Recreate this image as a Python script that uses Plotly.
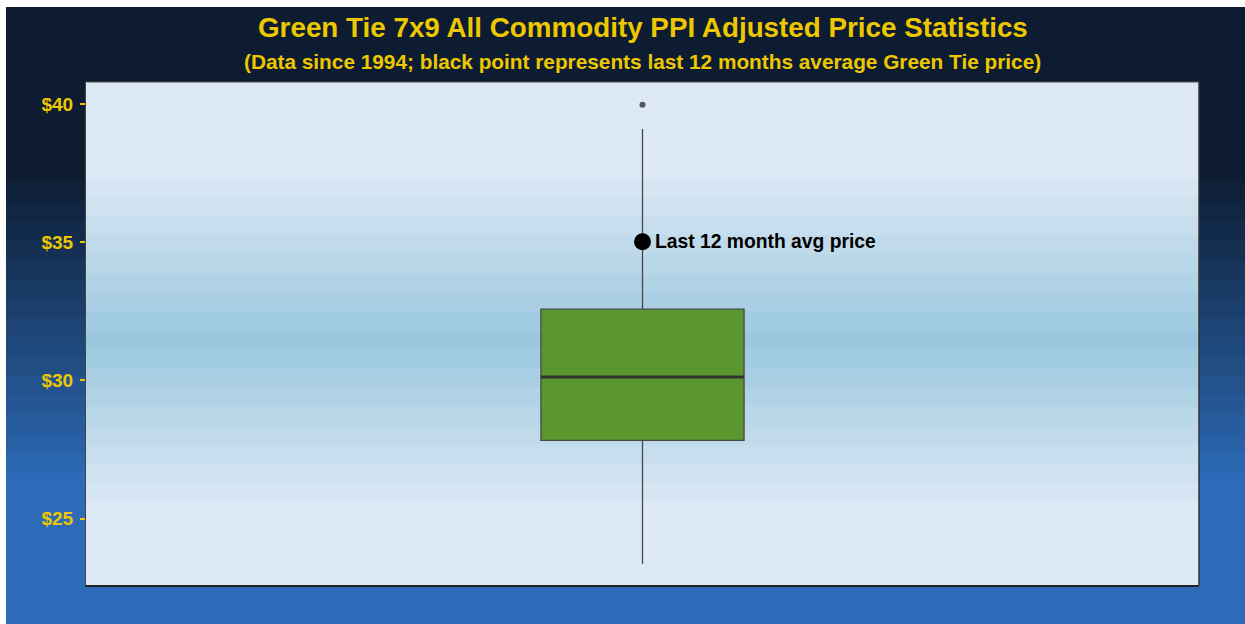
import plotly.graph_objects as go

# ---- data ----
categories = ["Green Tie 7x9"]
q1 = [27.83]
median = [30.13]
q3 = [32.58]
lower_whisker = [23.37]
upper_whisker = [39.1]
outliers = [39.98]
last12_avg = [35.02]
last12_label = "Last 12 month avg price"
y_ticks = [25, 30, 35, 40]
y_tick_labels = ["$25", "$30", "$35", "$40"]
title_text = "Green Tie 7x9 All Commodity PPI Adjusted Price Statistics"
subtitle_text = "(Data since 1994; black point represents last 12 months average Green Tie price)"

# screen offset of the figure inside the page
OX, OY = 6, 7
W, H = 1245 - OX, 624 - OY
ML, MT = 86 - OX, 82 - OY
MR = W - (1199 - OX)
MB = H - (585 - OY)
PW, PH = W - ML - MR, H - MT - MB
BOX_X = 0.0
BOX_W = 0.365
GOLD = "#EDC800"
FONT = "Liberation Sans, Arial, sans-serif"


def px_x(sx):
    return (sx - OX - ML) / PW


def px_y(sy):
    return (H - MB - (sy - OY)) / PH


def mix(c1, c2, t):
    return "rgb(%d,%d,%d)" % tuple(round(a + (b - a) * t) for a, b in zip(c1, c2))


shapes = []
XL, XR = px_x(0), px_x(1260)
# outer background: navy top, stepped gradient, blue bottom
NAVY = (13, 28, 49)
BLUE = (45, 107, 184)
shapes.append(dict(type="rect", xref="paper", yref="paper", x0=XL, x1=XR,
                   y0=px_y(640), y1=px_y(0), fillcolor=mix(NAVY, NAVY, 0), line_width=0, layer="below"))
nb = 15
top, bot = 182, 473
bh = (bot - top) / nb
for k in range(nb + 1):
    t = (k + 1) / (nb + 1)
    shapes.append(dict(type="rect", xref="paper", yref="paper", x0=XL, x1=XR,
                       y0=px_y(640), y1=px_y(top + k * bh),
                       fillcolor=mix(NAVY, BLUE, t), line_width=0, layer="below"))
# panel background: light edges, darker stepped band in the middle
LIGHT = (221, 233, 245)
DARK = (155, 200, 223)
shapes.append(dict(type="rect", xref="paper", yref="paper", x0=0, x1=1, y0=0, y1=1,
                   fillcolor=mix(LIGHT, LIGHT, 0), line_width=0, layer="below"))
pc, ph, nlev = 340, 19.0, 9
for j in range(nlev - 1, -1, -1):
    t = j / nlev
    shapes.append(dict(type="rect", xref="paper", yref="paper", x0=0, x1=1,
                       y0=px_y(pc + (j + 0.5) * ph), y1=px_y(pc - (j + 0.5) * ph),
                       fillcolor=mix(DARK, LIGHT, t), line_width=0, layer="below"))
# top / right border
shapes.append(dict(type="line", xref="paper", yref="paper", x0=0, x1=1, y0=1, y1=1,
                   line=dict(color="#555", width=1)))
shapes.append(dict(type="line", xref="paper", yref="paper", x0=1, x1=1, y0=0, y1=1,
                   line=dict(color="#333", width=1.5)))

fig = go.Figure()
fig.add_trace(go.Box(
    x=[BOX_X], q1=q1, median=median, q3=q3,
    lowerfence=lower_whisker, upperfence=upper_whisker,
    width=BOX_W, whiskerwidth=0, boxpoints=False,
    fillcolor="#5A982F", line=dict(color="#474747", width=1.3),
    hoverinfo="skip", showlegend=False, name=categories[0],
))
# thicker median line
fig.add_trace(go.Scatter(
    x=[BOX_X - BOX_W / 2, BOX_X + BOX_W / 2], y=[median[0], median[0]],
    mode="lines", line=dict(color="#333", width=3), showlegend=False, hoverinfo="skip"))
# outlier
fig.add_trace(go.Scatter(
    x=[BOX_X] * len(outliers), y=outliers, mode="markers",
    marker=dict(color="#555", size=6), showlegend=False, hoverinfo="skip"))
# last 12 month avg
fig.add_trace(go.Scatter(
    x=[BOX_X], y=last12_avg, mode="markers",
    marker=dict(color="black", size=17), showlegend=False, hoverinfo="skip"))
fig.add_annotation(x=BOX_X, y=last12_avg[0], text="<b>" + last12_label + "</b>",
                   showarrow=False, xanchor="left", yanchor="middle", xshift=10,
                   font=dict(family=FONT, size=19.3, color="black"))
# title and subtitle
fig.add_annotation(xref="paper", yref="paper", x=0.5, y=px_y(28), text="<b>" + title_text + "</b>",
                   showarrow=False, xanchor="center", yanchor="middle",
                   font=dict(family=FONT, size=27.8, color=GOLD))
fig.add_annotation(xref="paper", yref="paper", x=0.5, y=px_y(62), text="<b>" + subtitle_text + "</b>",
                   showarrow=False, xanchor="center", yanchor="middle",
                   font=dict(family=FONT, size=20.8, color=GOLD))

fig.update_layout(
    width=W, height=H,
    margin=dict(l=ML, r=MR, t=MT, b=MB),
    paper_bgcolor="white", plot_bgcolor="rgba(0,0,0,0)",
    shapes=shapes,
    xaxis=dict(range=[-1, 1], showticklabels=False, ticks="", showgrid=False, zeroline=False,
               showline=True, linecolor="#222", linewidth=2, fixedrange=True),
    yaxis=dict(range=[22.6, 40.8], tickvals=y_ticks,
               ticktext=["<b>" + t + "</b>" for t in y_tick_labels],
               tickfont=dict(family=FONT, size=19, color=GOLD), ticks="outside",
               ticklen=5, tickwidth=1.5, tickcolor=GOLD, showgrid=False, zeroline=False,
               showline=True, linecolor="#444", linewidth=1, ticklabelstandoff=3),
    font=dict(family=FONT),
)
fig.write_html(
    "out.html",
    post_script="document.body.style.margin='%dpx 0 0 %dpx';document.body.style.overflow='hidden';" % (OY, OX),
)
